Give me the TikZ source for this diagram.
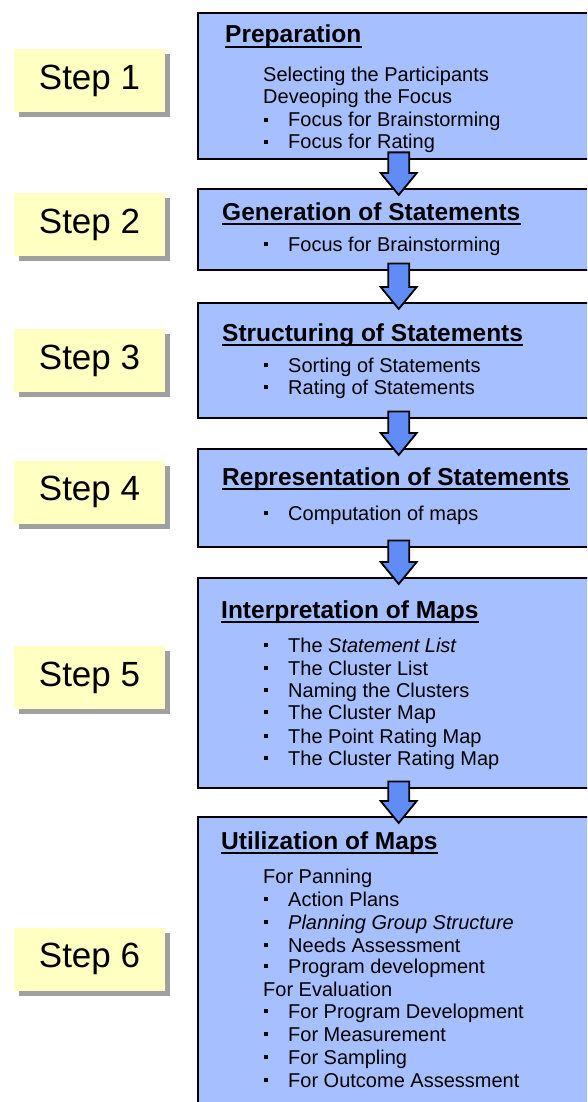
\documentclass[tikz,border=0pt]{standalone}
\usepackage{fontspec}
\setmainfont{Liberation Sans}
\usetikzlibrary{calc,shadows}
\definecolor{boxblue}{RGB}{166,192,255}
\definecolor{arrowblue}{RGB}{96,140,245}
\definecolor{stepyellow}{RGB}{255,255,194}
\definecolor{shadowgray}{RGB}{160,160,160}
\newcommand{\bitem}[3]{%
  \node[bul] (#1b) at (266,#2-7) {};
  \node[itm] (#1) at (288,#2) {#3};}
\newcommand{\hitem}[3]{\node[itm] (#1) at (263,#2) {#3};}
\newcommand{\ttl}[4]{%
  \node[ttlstyle] (#1) at (#2,#3) {#4};
  \draw[uline] ([yshift=-4pt]#1.base west) -- ([yshift=-4pt]#1.base east);}
\newcommand{\flowarrow}[2]{%
  \draw[arrowstyle] let \p1=(#1.south), \p2=(#2.north) in
    ({\x1-10.5pt},{\y1+8pt}) -- ({\x1+10.5pt},{\y1+8pt}) --
    ({\x1+10.5pt},{\y2+15pt}) -- ({\x1+18pt},{\y2+15pt}) --
    ({\x1},{\y2-7pt}) -- ({\x1-18pt},{\y2+15pt}) --
    ({\x1-10.5pt},{\y2+15pt}) -- cycle;}
\begin{document}
\begin{tikzpicture}[x=1pt,y=-1pt,
  stagebox/.style={draw=black,line width=2.4pt,fill=boxblue,anchor=north west,
    minimum width=401pt,inner sep=0pt},
  stepbox/.style={fill=stepyellow,minimum width=151pt,minimum height=63pt,inner sep=0pt,
    font=\fontsize{35}{40}\selectfont,
    drop shadow={shadow xshift=5pt,shadow yshift=-5pt,fill=shadowgray,opacity=1}},
  arrowstyle/.style={draw=black,line width=1.8pt,fill=arrowblue,line join=miter},
  ttlstyle/.style={anchor=base west,inner sep=0pt,font=\fontsize{24.5}{28}\selectfont\bfseries},
  uline/.style={line width=1.5pt},
  itm/.style={anchor=base west,inner sep=0pt,font=\fontsize{20}{22}\selectfont},
  bul/.style={fill=black,inner sep=0pt,minimum size=3.5pt}]
\clip (0,0) rectangle (587,1102);
\fill[white] (0,0) rectangle (587,1102);
% step labels
\node[stepbox] (s1) at (89.5,80.5) {Step 1};
\node[stepbox] (s2) at (89.5,224.5) {Step 2};
\node[stepbox] (s3) at (89.5,360.5) {Step 3};
\node[stepbox] (s4) at (89.5,492) {Step 4};
\node[stepbox] (s5) at (89.5,677.5) {Step 5};
\node[stepbox] (s6) at (89.5,959) {Step 6};
% stage boxes
\node[stagebox,minimum height=146pt] (b1) at (197,12) {};
\node[stagebox,minimum height=81pt] (b2) at (197,188) {};
\node[stagebox,minimum height=115pt] (b3) at (197,302) {};
\node[stagebox,minimum height=98pt] (b4) at (197,448) {};
\node[stagebox,minimum height=210pt] (b5) at (197,577) {};
\node[stagebox,minimum height=300pt] (b6) at (197,816) {};
% arrows
\flowarrow{b1}{b2}
\flowarrow{b2}{b3}
\flowarrow{b3}{b4}
\flowarrow{b4}{b5}
\flowarrow{b5}{b6}
% box 1
\ttl{t1}{225}{43}{Preparation}
\hitem{a1}{82}{Selecting the Participants}
\hitem{a2}{104}{Deveoping the Focus}
\bitem{a3}{127}{Focus for Brainstorming}
\bitem{a4}{149}{Focus for Rating}
% box 2
\ttl{t2}{222}{220}{Generation of Statements}
\bitem{c1}{251}{Focus for Brainstorming}
% box 3
\ttl{t3}{222}{341}{Structuring of Statements}
\bitem{d1}{372}{Sorting of Statements}
\bitem{d2}{394}{Rating of Statements}
% box 4
\ttl{t4}{222}{485}{Representation of Statements}
\bitem{e1}{520}{Computation of maps}
% box 5
\ttl{t5}{221}{618}{Interpretation of Maps}
\bitem{f1}{652}{The \textit{Statement List}}
\bitem{f2}{675}{The Cluster List}
\bitem{f3}{697}{Naming the Clusters}
\bitem{f4}{719}{The Cluster Map}
\bitem{f5}{743}{The Point Rating Map}
\bitem{f6}{765}{The Cluster Rating Map}
% box 6
\ttl{t6}{221}{849}{Utilization of Maps}
\hitem{g1}{883}{For Panning}
\bitem{g2}{906}{Action Plans}
\bitem{g3}{929}{\textit{Planning Group Structure}}
\bitem{g4}{952}{Needs Assessment}
\bitem{g5}{973}{Program development}
\hitem{g6}{996}{For Evaluation}
\bitem{g7}{1018}{For Program Development}
\bitem{g8}{1041}{For Measurement}
\bitem{g9}{1064}{For Sampling}
\bitem{g10}{1087}{For Outcome Assessment}
\end{tikzpicture}
\end{document}
